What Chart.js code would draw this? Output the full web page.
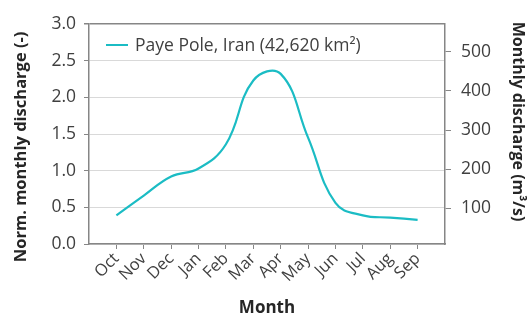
<!DOCTYPE html>
<html>
<head>
<meta charset="utf-8">
<script src="https://cdn.jsdelivr.net/npm/chart.js@4/dist/chart.umd.min.js"></script>
<style>
  html, body { margin: 0; padding: 0; background: #fff; }
  #wrap { width: 527px; height: 320px; position: relative; }
</style>
</head>
<body>
<div id="wrap"><canvas id="c" width="527" height="320"></canvas></div>
<script>
const months = ['Oct', 'Nov', 'Dec', 'Jan', 'Feb', 'Mar', 'Apr', 'May', 'Jun', 'Jul', 'Aug', 'Sep'];
const normDischarge = [0.39, 0.66, 0.92, 1.03, 1.36, 2.23, 2.32, 1.45, 0.56, 0.39, 0.36, 0.33];
const leftTicks = [0, 0.5, 1.0, 1.5, 2.0, 2.5, 3.0];
const rightTicks = [100, 200, 300, 400, 500];
const seriesLabel = 'Paye Pole, Iran (42,620 km²)';

const FONT = '"Open Sans"';
const LINE_COLOR = '#1BBCC4';
const AXIS_COLOR = '#868686';
const GRID_COLOR = '#D9D9D9';
const TEXT_COLOR = '#404040';
const TITLE_COLOR = '#262626';

const legendPlugin = {
  id: 'insideLegend',
  afterDraw(chart) {
    const ctx = chart.ctx;
    const a = chart.chartArea;
    const ds = chart.data.datasets[0];
    const y = a.top + 21;
    const x0 = a.left + 17;
    ctx.save();
    ctx.strokeStyle = ds.borderColor;
    ctx.lineWidth = 2;
    ctx.beginPath();
    ctx.moveTo(x0, y);
    ctx.lineTo(x0 + 22, y);
    ctx.stroke();
    ctx.fillStyle = TEXT_COLOR;
    ctx.font = '17.5px ' + FONT;
    ctx.textBaseline = 'middle';
    ctx.fillText(ds.label, x0 + 29, y + 1);
    ctx.restore();
  }
};

new Chart(document.getElementById('c'), {
  type: 'line',
  data: {
    datasets: [{
      label: seriesLabel,
      data: months.map((m, i) => ({ x: i, y: normDischarge[i] })),
      borderColor: LINE_COLOR,
      borderWidth: 2.2,
      pointRadius: 0,
      tension: 0.42,
      fill: false,
      yAxisID: 'y'
    }]
  },
  options: {
    responsive: false,
    animation: false,
    devicePixelRatio: 1,
    layout: { padding: { top: 24, left: 0, right: 0, bottom: 0 } },
    plugins: { legend: { display: false }, tooltip: { enabled: false } },
    scales: {
      x: {
        type: 'linear',
        min: -1,
        max: 12,
        afterBuildTicks(axis) {
          axis.ticks = months.map((m, i) => ({ value: i }));
        },
        afterFit(axis) { axis.height = 76; },
        ticks: {
          autoSkip: false,
          minRotation: 45,
          maxRotation: 45,
          padding: 0,
          color: TEXT_COLOR,
          font: { family: FONT, size: 16.5 },
          callback: (v) => months[v] ?? ''
        },
        grid: { drawOnChartArea: false, drawTicks: true, tickLength: 5, tickColor: AXIS_COLOR },
        border: { color: AXIS_COLOR, width: 1.5 },
        title: {
          display: true,
          text: 'Month',
          color: TITLE_COLOR,
          font: { family: FONT, size: 17, weight: 'bold' },
          padding: { top: 0, bottom: 2 }
        }
      },
      y: {
        type: 'linear',
        position: 'left',
        min: 0,
        max: 3,
        afterBuildTicks(axis) {
          axis.ticks = leftTicks.map(v => ({ value: v }));
        },
        afterFit(axis) { axis.width = 89; },
        ticks: {
          padding: 8,
          color: TEXT_COLOR,
          font: { family: FONT, size: 17.5 },
          callback: (v) => Number(v).toFixed(1)
        },
        grid: {
          color: (c) => (c.tick && c.tick.value === 3 ? AXIS_COLOR : GRID_COLOR),
          lineWidth: (c) => (c.tick && c.tick.value === 3 ? 1.5 : 1),
          tickColor: AXIS_COLOR,
          tickLength: 5
        },
        border: { color: AXIS_COLOR, width: 1.5 },
        title: {
          display: true,
          text: 'Norm. monthly discharge (-)      ',
          color: TITLE_COLOR,
          font: { family: FONT, size: 16.5, weight: 'bold' },
          padding: { top: 11, bottom: 0 }
        }
      },
      y1: {
        type: 'linear',
        position: 'right',
        min: 9,
        max: 571,
        afterBuildTicks(axis) {
          axis.ticks = rightTicks.map(v => ({ value: v }));
        },
        afterFit(axis) { axis.width = 82; },
        ticks: {
          padding: 10,
          color: TEXT_COLOR,
          font: { family: FONT, size: 17.5 }
        },
        grid: { drawOnChartArea: false, tickColor: AXIS_COLOR, tickLength: 6 },
        border: { color: AXIS_COLOR, width: 1.5 },
        title: {
          display: true,
          text: 'Monthly discharge (m³/s)      ',
          color: TITLE_COLOR,
          font: { family: FONT, size: 16, weight: 'bold' },
          padding: { top: 0, bottom: 5 }
        }
      }
    }
  },
  plugins: [legendPlugin]
});
</script>
</body>
</html>
